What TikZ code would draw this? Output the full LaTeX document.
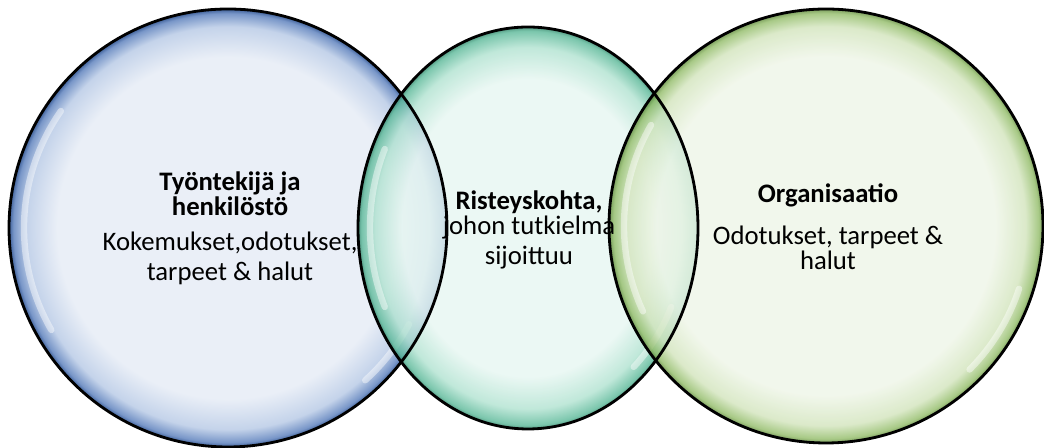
\documentclass[tikz,border=0pt]{standalone}
\usepackage{fontspec}
\setmainfont{Carlito}
\usepackage{tikz}
\usetikzlibrary{shapes.geometric}
\definecolor{VennBlueLight}{RGB}{234,239,247}
\definecolor{VennBlueMid}{RGB}{196,211,234}
\definecolor{VennBlueRim}{RGB}{120,150,200}
\definecolor{VennBlueDark}{RGB}{60,94,152}
\definecolor{VennTealLight}{RGB}{230,246,241}
\definecolor{VennTealMid}{RGB}{176,226,208}
\definecolor{VennTealRim}{RGB}{90,184,152}
\definecolor{VennTealDark}{RGB}{40,130,100}
\definecolor{VennGreenLight}{RGB}{238,245,231}
\definecolor{VennGreenMid}{RGB}{210,228,188}
\definecolor{VennGreenRim}{RGB}{146,188,104}
\definecolor{VennGreenDark}{RGB}{90,134,52}
\pgfdeclareradialshading{bluerim}{\pgfpoint{0bp}{0bp}}{color(0bp)=(VennBlueLight); color(19.5bp)=(VennBlueLight); color(23bp)=(VennBlueMid); color(24.5bp)=(VennBlueRim); color(25bp)=(VennBlueDark); color(50bp)=(VennBlueDark)}
\pgfdeclareradialshading{tealrim}{\pgfpoint{0bp}{0bp}}{color(0bp)=(VennTealLight); color(18.5bp)=(VennTealLight); color(22.5bp)=(VennTealMid); color(24.5bp)=(VennTealRim); color(25bp)=(VennTealDark); color(50bp)=(VennTealDark)}
\pgfdeclareradialshading{greenrim}{\pgfpoint{0bp}{0bp}}{color(0bp)=(VennGreenLight); color(19.5bp)=(VennGreenLight); color(23bp)=(VennGreenMid); color(24.5bp)=(VennGreenRim); color(25bp)=(VennGreenDark); color(50bp)=(VennGreenDark)}
\tikzset{
  gloss/.style={draw=white, line width=1.8pt, draw opacity=0.45, line cap=round},
  rimline/.style={draw=black, line width=0.8pt},
  vennlabel/.style={align=center, inner sep=0pt, font=\fontsize{7.6}{8}\selectfont}
}

\begin{document}
\begin{tikzpicture}
    \useasboundingbox (0,0) rectangle (10.44,4.48);
    % Draw shaded circles
    \node[circle, inner sep=0pt, minimum size=4.38cm, shading=bluerim] (c1) at (2.28,2.20) {};
    \draw[gloss] (c1.center) ++(145:2.04) arc[start angle=145, end angle=210, radius=2.04];
    \draw[gloss] (c1.center) ++(-28:2.05) arc[start angle=-28, end angle=-48, radius=2.05];
    \node[ellipse, inner sep=0pt, minimum width=3.40cm, minimum height=4.02cm, shading=tealrim, fill opacity=0.8] (c2) at (5.28,2.20) {};
    \draw[gloss] (c2.center) ++(155:1.58 and 1.87) arc[start angle=155, end angle=205, x radius=1.58, y radius=1.87];
    \draw[gloss] (c2.center) ++(-25:1.58 and 1.87) arc[start angle=-25, end angle=-48, x radius=1.58, y radius=1.87];
    \node[circle, inner sep=0pt, minimum size=4.34cm, shading=greenrim, fill opacity=0.8] (c3) at (8.26,2.22) {};
    \draw[gloss] (c3.center) ++(150:2.02) arc[start angle=150, end angle=205, radius=2.02];
    \draw[gloss] (c3.center) ++(-18:2.03) arc[start angle=-18, end angle=-45, radius=2.03];
    % Draw outlines
    \draw[rimline] (c1.center) circle[radius=2.19];
    \draw[rimline] (c2.center) ellipse[x radius=1.70, y radius=2.01];
    \draw[rimline] (c3.center) circle[radius=2.17];
    % Labels
    \node[vennlabel] (t1) at (2.30,2.20) {\textbf{Työntekijä ja}\\[-0.9pt]\textbf{henkilöstö}\\[1.9pt]Kokemukset,odotukset,\\[0.5pt]tarpeet \& halut};
    \node[vennlabel] (t2) at (5.29,2.18) {\textbf{Risteyskohta,}\\[-0.9pt]johon tutkielma\\[0.5pt]sijoittuu};
    \node[vennlabel] (t3) at (8.28,2.21) {\textbf{Organisaatio}\\[3.9pt]Odotukset, tarpeet \&\\[-0.9pt]halut};
\end{tikzpicture}
\end{document}
